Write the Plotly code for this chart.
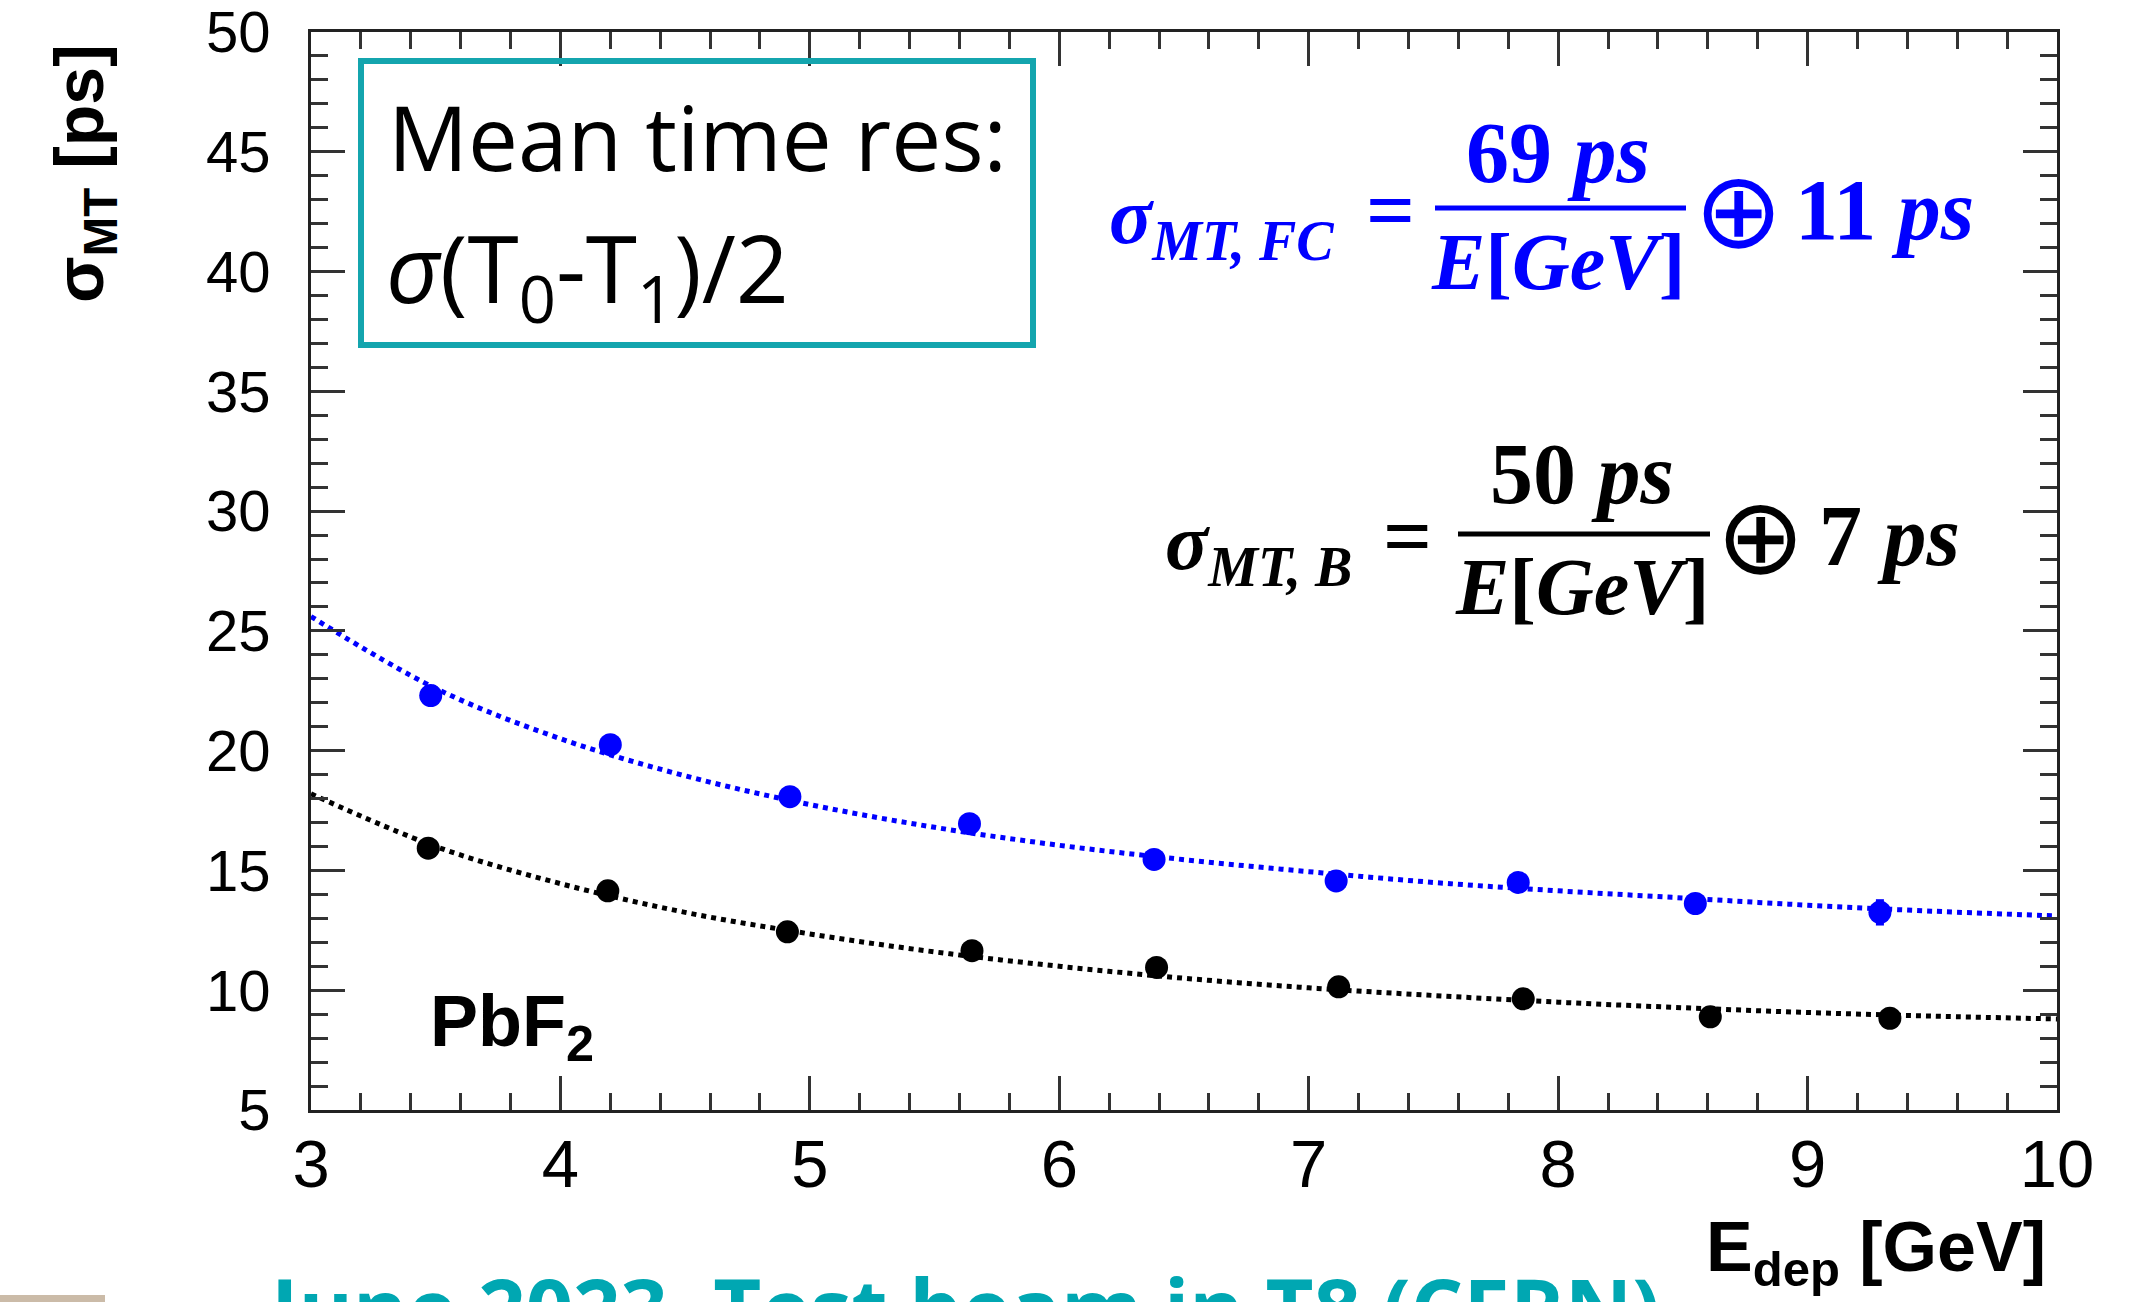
import plotly.graph_objects as go

# ---------------- data ----------------
energy_fc = [3.48, 4.20, 4.92, 5.64, 6.38, 7.11, 7.84, 8.55, 9.29]
sigma_fc = [22.3, 20.25, 18.08, 16.95, 15.46, 14.56, 14.5, 13.62, 13.25]
err_fc = [0.3, 0.3, 0.3, 0.3, 0.3, 0.3, 0.3, 0.3, 0.55]

energy_b = [3.47, 4.19, 4.91, 5.65, 6.39, 7.12, 7.86, 8.61, 9.33]
sigma_b = [15.93, 14.15, 12.44, 11.65, 10.95, 10.14, 9.64, 8.89, 8.83]
err_b = [0.3, 0.3, 0.3, 0.3, 0.3, 0.3, 0.3, 0.3, 0.3]

fit_energy = [3.0, 3.5, 4.0, 4.5, 5.0, 5.5, 6.0, 6.5, 7.0, 7.5, 8.0, 8.5, 9.0, 9.5, 10.0]
fit_fc = [25.6, 22.6, 20.5, 18.95, 17.75, 16.8, 16.05, 15.45, 14.95, 14.5, 14.15, 13.85, 13.55, 13.3, 13.1]
fit_b = [18.2, 16.0, 14.45, 13.25, 12.35, 11.6, 11.0, 10.5, 10.1, 9.78, 9.5, 9.27, 9.07, 8.92, 8.8]

x_ticks = [3, 4, 5, 6, 7, 8, 9, 10]
y_ticks = [5, 10, 15, 20, 25, 30, 35, 40, 45, 50]

BLUE = "#0000ff"
BLACK = "#000000"
TEAL = "#14a5ae"

# ---------------- geometry helpers (page pixels -> paper) ----------------
W, H = 2137, 1302
L, R, T, B = 311, 2057, 32, 1110


def px(x):
    return (x - L) / (R - L)


def py(y):
    return (B - y) / (B - T)


fig = go.Figure()

fig.add_trace(go.Scatter(x=fit_energy, y=fit_fc, mode="lines",
                         line=dict(color=BLUE, width=5, dash="dot", shape="spline"),
                         hoverinfo="skip", showlegend=False))
fig.add_trace(go.Scatter(x=fit_energy, y=fit_b, mode="lines",
                         line=dict(color=BLACK, width=5, dash="dot", shape="spline"),
                         hoverinfo="skip", showlegend=False))
fig.add_trace(go.Scatter(x=energy_fc, y=sigma_fc, mode="markers",
                         marker=dict(color=BLUE, size=23),
                         error_y=dict(type="data", array=err_fc, color=BLUE, thickness=8, width=0),
                         showlegend=False))
fig.add_trace(go.Scatter(x=energy_b, y=sigma_b, mode="markers",
                         marker=dict(color=BLACK, size=23),
                         error_y=dict(type="data", array=err_b, color=BLACK, thickness=8, width=0),
                         showlegend=False))

axis_common = dict(
    showgrid=False, zeroline=False, showline=True, linecolor="#222222", linewidth=3,
    mirror="allticks", ticks="inside", ticklen=34, tickwidth=3, tickcolor="#333333",
    ticklabeloverflow="allow", automargin=False,
)

fig.update_xaxes(range=[3, 10], tickvals=x_ticks, ticktext=[str(v) for v in x_ticks],
                 minor=dict(dtick=0.2, ticks="inside", ticklen=17, tickwidth=2.5, tickcolor="#333333"),
                 ticklabelstandoff=-6,
                 tickfont=dict(family="Liberation Sans, Arial, sans-serif", size=67, color="#000000"),
                 **axis_common)
fig.update_yaxes(range=[4.9999, 50.0001], tickvals=y_ticks, ticktext=[str(v) for v in y_ticks],
                 minor=dict(tick0=5, dtick=1, ticks="inside", ticklen=17, tickwidth=2.5, tickcolor="#333333"),
                 ticklabelstandoff=26,
                 tickfont=dict(family="Liberation Sans, Arial, sans-serif", size=58, color="#000000"),
                 **axis_common)

annotations = []
shapes = []

# axis titles
annotations.append(dict(xref="paper", yref="paper", x=px(84), y=py(173),
                        text="<b>σ<sub>MT</sub> [ps]</b>", textangle=-90, showarrow=False,
                        font=dict(family="Liberation Sans, Arial, sans-serif", size=68, color="#000000"),
                        xanchor="center", yanchor="middle"))
annotations.append(dict(xref="paper", yref="paper", x=px(2048), y=py(1252),
                        text="<b>E<sub>dep</sub> [GeV]</b>", showarrow=False,
                        font=dict(family="Liberation Sans, Arial, sans-serif", size=70, color="#000000"),
                        xanchor="right", yanchor="middle"))

# PbF2 label
annotations.append(dict(xref="paper", yref="paper", x=px(428), y=py(1026),
                        text="<b>PbF<sub>2</sub></b>", showarrow=False,
                        font=dict(family="Liberation Sans, Arial, sans-serif", size=72, color="#000000"),
                        xanchor="left", yanchor="middle"))

# info box
shapes.append(dict(type="rect", xref="paper", yref="paper",
                   x0=px(361), x1=px(1033), y0=py(61), y1=py(345),
                   line=dict(color=TEAL, width=6), fillcolor="rgba(0,0,0,0)"))
annotations.append(dict(xref="paper", yref="paper", x=px(386), y=py(137),
                        text="Mean time res:", showarrow=False,
                        font=dict(family="Open Sans, sans-serif", size=89, color="#000000"),
                        xanchor="left", yanchor="middle"))
annotations.append(dict(xref="paper", yref="paper", x=px(384), y=py(273),
                        text="<i>σ</i>(T<sub>0</sub>-T<sub>1</sub>)/2", showarrow=False,
                        font=dict(family="Open Sans, sans-serif", size=93, color="#000000"),
                        xanchor="left", yanchor="middle"))


def formula(color, sub, num, const, sig_x, sig_y, eq_x, num_x, num_y, line_x0, line_x1, line_y,
            den_y, plus_x, plus_y, const_x):
    f = dict(family="Liberation Serif, Times New Roman, serif", size=80, color=color)
    fn = dict(family="Liberation Serif, Times New Roman, serif", size=86, color=color)
    fo = dict(family="DejaVu Sans, sans-serif", size=106, color=color)
    annotations.append(dict(xref="paper", yref="paper", x=px(sig_x), y=py(sig_y),
                            text="<b><i>σ</i></b><sub><b><i>" + sub + "</i></b></sub>",
                            showarrow=False, font=f, xanchor="left", yanchor="middle"))
    annotations.append(dict(xref="paper", yref="paper", x=px(eq_x), y=py(sig_y - 12),
                            text="<b>=</b>", showarrow=False, font=fn,
                            xanchor="center", yanchor="middle"))
    annotations.append(dict(xref="paper", yref="paper", x=px(num_x), y=py(num_y),
                            text="<b>" + num + " <i>ps</i></b>", showarrow=False, font=fn,
                            xanchor="center", yanchor="middle"))
    shapes.append(dict(type="line", xref="paper", yref="paper",
                       x0=px(line_x0), x1=px(line_x1), y0=py(line_y), y1=py(line_y),
                       line=dict(color=color, width=5)))
    annotations.append(dict(xref="paper", yref="paper", x=px(num_x), y=py(den_y),
                            text="<b><i>E</i>[<i>GeV</i>]</b>", showarrow=False, font=f,
                            xanchor="center", yanchor="middle"))
    annotations.append(dict(xref="paper", yref="paper", x=px(plus_x), y=py(plus_y),
                            text="⊕", showarrow=False, font=fo,
                            xanchor="center", yanchor="middle"))
    annotations.append(dict(xref="paper", yref="paper", x=px(const_x), y=py(sig_y - 12),
                            text="<b>" + const + " <i>ps</i></b>", showarrow=False, font=fn,
                            xanchor="left", yanchor="middle"))


formula(BLUE, "MT, FC", "69", "11", 1107, 222, 1390, 1558, 153, 1435, 1686, 208, 262,
        1738, 211, 1793)
formula(BLACK, "MT, B", "50", "7", 1163, 548, 1407, 1582, 474, 1458, 1710, 534, 587,
        1760, 536, 1817)

# cut-off slide caption at the bottom
annotations.append(dict(xref="paper", yref="paper", x=px(262), y=py(1306),
                        text="<b>June 2023, Test beam in T8 (CERN)</b>", showarrow=False,
                        font=dict(family="Open Sans, sans-serif", size=83, color="#00a7b2"),
                        xanchor="left", yanchor="middle"))
shapes.append(dict(type="rect", xref="paper", yref="paper",
                   x0=px(0), x1=px(105), y0=py(1295), y1=py(1302),
                   line=dict(width=0), fillcolor="#cbbba8"))

fig.update_layout(
    width=W, height=H,
    margin=dict(l=L, r=W - R, t=T, b=H - B),
    paper_bgcolor="white", plot_bgcolor="white",
    annotations=annotations, shapes=shapes,
    showlegend=False,
)

fig.write_html("out.html")
